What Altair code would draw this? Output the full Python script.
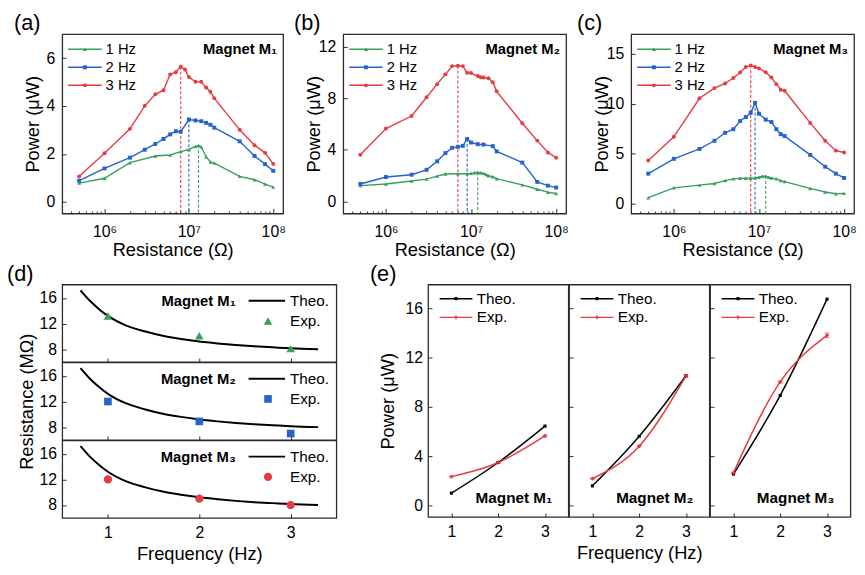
import altair as alt
import pandas as pd

FONT = "Liberation Sans"
GREEN = "#3a9e5e"
BLUE = "#2464cc"
RED = "#e53b42"
FRAME = "#2b2b2b"

SERIES = ["1 Hz", "2 Hz", "3 Hz"]
SERIES_COLORS = [GREEN, BLUE, RED]
SERIES_SHAPES = ["triangle-up", "square", "circle"]

# ---------------- (a) Magnet M1 : load resistance (MOhm) vs power (uW)
a_1hz_r = [0.5, 1, 2, 4, 6, 8, 10, 12, 13, 14, 16, 18, 20, 40, 60, 80, 100]
a_1hz_p = [0.79, 0.99, 1.64, 1.92, 1.96, 2.10, 2.19, 2.32, 2.36, 2.30, 1.89, 1.67, 1.62, 1.07, 0.93, 0.75, 0.62]
a_2hz_r = [0.5, 1, 2, 3, 4, 5, 6, 7, 8, 10, 12, 14, 16, 18, 20, 40, 60, 80, 100]
a_2hz_p = [0.89, 1.40, 1.85, 2.18, 2.42, 2.63, 2.82, 2.95, 2.93, 3.44, 3.40, 3.37, 3.30, 3.22, 3.10, 2.53, 1.92, 1.58, 1.30]
a_3hz_r = [0.5, 1, 2, 3, 4, 5, 6, 7, 8, 9, 10, 12, 14, 16, 18, 20, 40, 60, 80, 100]
a_3hz_p = [1.07, 2.03, 3.05, 4.01, 4.49, 4.66, 5.32, 5.41, 5.64, 5.52, 5.21, 5.01, 5.01, 4.77, 4.60, 4.33, 3.01, 2.37, 2.05, 1.59]

# ---------------- (b) Magnet M2
b_1hz_r = [0.5, 1, 2, 3, 4, 5, 7, 9, 10, 11, 12, 13, 14, 15, 16, 18, 20, 40, 60, 80, 100]
b_1hz_p = [1.22, 1.35, 1.58, 1.73, 1.96, 2.12, 2.14, 2.14, 2.17, 2.22, 2.24, 2.22, 2.17, 2.09, 1.99, 1.91, 1.76, 1.28, 0.94, 0.71, 0.61]
b_2hz_r = [0.5, 1, 2, 3, 4, 5, 6, 7, 8, 9, 10, 12, 14, 18, 20, 40, 60, 80, 100]
b_2hz_p = [1.35, 1.89, 2.07, 2.45, 3.11, 3.75, 4.16, 4.23, 4.31, 4.85, 4.57, 4.44, 4.41, 4.29, 3.88, 3.01, 1.51, 1.22, 1.07]
b_3hz_r = [0.5, 1, 2, 3, 4, 5, 6, 7, 8, 9, 10, 12, 13, 14, 16, 18, 20, 40, 60, 80, 100]
b_3hz_p = [3.62, 5.66, 6.63, 8.09, 9.11, 9.87, 10.51, 10.54, 10.51, 10.00, 9.97, 9.74, 9.64, 9.62, 9.57, 9.26, 8.55, 6.07, 4.72, 3.80, 3.39]

# ---------------- (c) Magnet M3
c_1hz_r = [0.5, 1, 2, 3, 4, 5, 6, 7, 8, 9, 10, 11, 12, 13, 14, 16, 18, 20, 40, 60, 80, 100]
c_1hz_p = [0.59, 1.58, 1.85, 2.01, 2.31, 2.48, 2.54, 2.54, 2.54, 2.57, 2.64, 2.74, 2.75, 2.64, 2.57, 2.48, 2.31, 2.21, 1.52, 1.16, 0.99, 1.02]
c_2hz_r = [0.5, 1, 2, 3, 4, 5, 6, 7, 8, 9, 10, 12, 14, 16, 18, 20, 40, 60, 80, 100]
c_2hz_p = [3.00, 4.49, 5.48, 6.30, 7.10, 7.46, 8.28, 8.68, 9.11, 10.10, 9.01, 8.42, 8.18, 7.46, 6.96, 6.77, 4.88, 3.70, 3.00, 2.57]
c_3hz_r = [0.5, 1, 2, 3, 4, 5, 6, 7, 8, 9, 10, 12, 14, 16, 18, 20, 40, 60, 80, 100]
c_3hz_p = [4.32, 6.70, 10.56, 11.58, 12.05, 12.60, 13.14, 13.70, 13.86, 13.70, 13.56, 13.17, 12.64, 11.98, 11.42, 11.32, 8.09, 6.30, 5.31, 5.12]

# ---------------- (d) optimal resistance (MOhm) vs frequency (Hz)
d_theo_f = [0.7, 0.8, 0.9, 1.0, 1.2, 1.4, 1.6, 1.8, 2.0, 2.2, 2.4, 2.6, 2.8, 3.0, 3.3]
d_theo_r = [17.2, 15.6, 14.3, 13.2, 11.7, 10.8, 10.1, 9.6, 9.2, 8.9, 8.65, 8.45, 8.3, 8.15, 8.0]
d_exp_f = [1, 2, 3]
d_exp_m1 = [13.2, 10.1, 8.1]
d_exp_m2 = [12.0, 8.9, 7.0]
d_exp_m3 = [12.0, 9.0, 8.0]

# ---------------- (e) maximum power (uW) vs frequency (Hz)
e_f = [1, 2, 3]
e_theo_m1 = [0.99, 3.48, 6.44]
e_exp_m1 = [2.33, 3.48, 5.64]
e_err_m1 = [0.04, 0.05, 0.08]
e_theo_m2 = [1.58, 5.61, 10.53]
e_exp_m2 = [2.17, 4.81, 10.53]
e_err_m2 = [0.04, 0.06, 0.10]
e_theo_m3 = [2.54, 8.93, 16.76]
e_exp_m3 = [2.65, 10.03, 13.82]
e_err_m3 = [0.05, 0.08, 0.18]

MAGNETS = ["Magnet M\u2081", "Magnet M\u2082", "Magnet M\u2083"]


def tick(v):
    return alt.ExprRef(expr=str(v))


def one_row():
    return pd.DataFrame({"k": [0]})


def txt(text, x, y, size=15, bold=False, align="left", color="black"):
    return alt.Chart(one_row()).mark_text(
        text=text, align=align, baseline="middle", fontSize=size,
        fontWeight="bold" if bold else "normal", font=FONT, color=color,
    ).encode(x=alt.value(x), y=alt.value(y))


def seg(x1, x2, y, color, width=1.5):
    return alt.Chart(one_row()).mark_rule(color=color, strokeWidth=width).encode(
        x=alt.value(x1), x2=alt.value(x2), y=alt.value(y))


def dot(x, y, shape, color, size):
    return alt.Chart(one_row()).mark_point(
        shape=shape, filled=True, size=size, color=color, opacity=1, strokeWidth=0.8
    ).encode(x=alt.value(x), y=alt.value(y))


LOG_LABEL = "datum.value < 3000000 ? '10\u2076' : datum.value < 30000000 ? '10\u2077' : '10\u2078'"
MINOR = [k * 10 ** e for e in (5, 6, 7) for k in range(2, 10) if k * 10 ** e > 3.2e5]


def top_panel(tag, tag_dx, magnet, rs, ps, ydom, yvals, W, H):
    rows = []
    for name, r_list, p_list in zip(SERIES, rs, ps):
        for r, p in zip(r_list, p_list):
            rows.append({"R": r * 1e6, "P": p, "S": name})
    df = pd.DataFrame(rows)
    peaks = df.loc[df.groupby("S")["P"].idxmax()]

    xs = alt.Scale(type="log", domain=[3.15e5, 1.31e8])
    ys = alt.Scale(domain=ydom, nice=False, zero=False)
    col = alt.Color("S:N", scale=alt.Scale(domain=SERIES, range=SERIES_COLORS), legend=None)
    shp = alt.Shape("S:N", scale=alt.Scale(domain=SERIES, range=SERIES_SHAPES), legend=None)
    x_major = alt.Axis(orient="bottom", values=[1e6, 1e7, 1e8], labelExpr=LOG_LABEL,
                       title="Resistance (\u03a9)", titleY=36.5, titleBaseline="middle",
                       tickSize=tick(-5), labelPadding=15, grid=False, domain=False)
    x_minor = alt.Axis(orient="bottom", values=MINOR, labels=False, title=None,
                       tickSize=tick(-2.5), grid=False, domain=False)
    y_ax = alt.Axis(values=yvals, title="Power (\u03bcW)", titleX=-30, titleBaseline="middle",
                    tickSize=tick(-4), labelPadding=11.5, grid=False, domain=False)
    Y = alt.Y("P:Q", scale=ys, axis=y_ax)

    peak_rules = alt.Chart(peaks).mark_rule(strokeDash=[3, 2], strokeWidth=1.1).encode(
        x=alt.X("R:Q", scale=xs, axis=x_minor), y=Y, y2=alt.datum(ydom[0]), color=col)
    lines = alt.Chart(df).mark_line(strokeWidth=1.4).encode(
        x=alt.X("R:Q", scale=xs, axis=x_major), y=Y, color=col)
    points = alt.Chart(df).mark_point(filled=True, size=16, opacity=1).encode(
        x=alt.X("R:Q", scale=xs, axis=None), y=Y, color=col, shape=shp)

    layers = [peak_rules, lines, points]
    for i, (name, c, s) in enumerate(zip(SERIES, SERIES_COLORS, SERIES_SHAPES)):
        yy = 15.4 + i * 18.3
        layers.append(seg(6, 40, yy, c, 1.5))
        layers.append(dot(23, yy, s, c, 16))
        layers.append(txt(name, 44, yy, 15))
    layers.append(txt(magnet, W - 6, 15.4, 15, bold=True, align="right"))
    layers.append(txt(tag, tag_dx, -11.5, 22))
    return alt.layer(*layers).resolve_axis(x="independent").properties(width=W, height=H)


def d_panel(idx, shape, color, exp_r, size):
    theo_df = pd.DataFrame({"f": d_theo_f, "R": d_theo_r})
    exp_df = pd.DataFrame({"f": d_exp_f, "R": exp_r})
    xs = alt.Scale(domain=[0.5, 3.5], nice=False, zero=False)
    ys = alt.Scale(domain=[6.0, 18.1], nice=False, zero=False)
    last = idx == 2
    if last:
        x_ax = alt.Axis(values=[1, 2, 3], format="d", title="Frequency (Hz)", titleY=36,
                        titleBaseline="middle", tickSize=tick(-4), labelPadding=11,
                        grid=False, domain=False)
    else:
        x_ax = alt.Axis(values=[1, 2, 3], labels=False, title=None, tickSize=tick(-4),
                        grid=False, domain=False)
    if idx == 1:
        y_ax = alt.Axis(values=[8, 12, 16], title="Resistance (M\u03a9)", titleX=-36,
                        titleBaseline="middle", tickSize=tick(-4), labelPadding=9.7,
                        grid=False, domain=False)
    else:
        y_ax = alt.Axis(values=[8, 12, 16], title=None, tickSize=tick(-4), labelPadding=9.7,
                        grid=False, domain=False)
    X = alt.X("f:Q", scale=xs, axis=x_ax)
    Y = alt.Y("R:Q", scale=ys, axis=y_ax)
    theo = alt.Chart(theo_df).mark_line(color="black", strokeWidth=2, interpolate="monotone").encode(x=X, y=Y)
    exp = alt.Chart(exp_df).mark_point(shape=shape, filled=True, size=size, color=color, opacity=1).encode(x=X, y=Y)
    layers = [theo, exp,
              seg(189, 226, 16.5, "black", 2), txt("Theo.", 231, 16.5, 15.5),
              dot(208.7, 37, shape, color, size), txt("Exp.", 231, 37, 15.5),
              txt(MAGNETS[idx], 176, 16.5, 15, bold=True, align="right")]
    if idx == 0:
        layers.append(txt("(d)", -56, -11, 22))
    return alt.layer(*layers).properties(width=278, height=78.6)


def e_panel(idx, theo_p, exp_p, err):
    theo_df = pd.DataFrame({"f": e_f, "P": theo_p})
    exp_df = pd.DataFrame({"f": e_f, "P": exp_p, "lo": [p - e for p, e in zip(exp_p, err)],
                           "hi": [p + e for p, e in zip(exp_p, err)]})
    xs = alt.Scale(domain=[0.5, 3.5], nice=False, zero=False)
    ys = alt.Scale(domain=[-0.95, 17.95], nice=False, zero=False)
    if idx == 1:
        x_ax = alt.Axis(values=[1, 2, 3], format="d", title="Frequency (Hz)", titleY=36,
                        titleBaseline="middle", tickSize=tick(-4), labelPadding=11,
                        grid=False, domain=False)
    else:
        x_ax = alt.Axis(values=[1, 2, 3], format="d", title=None, tickSize=tick(-4),
                        labelPadding=11, grid=False, domain=False)
    if idx == 0:
        y_ax = alt.Axis(values=[0, 4, 8, 12, 16], title="Power (\u03bcW)", titleX=-40.6,
                        titleBaseline="middle", tickSize=tick(-4), labelPadding=9.6,
                        grid=False, domain=False)
    else:
        y_ax = alt.Axis(values=[0, 4, 8, 12, 16], labels=False, title=None, tickSize=tick(-4),
                        grid=False, domain=False)
    X = alt.X("f:Q", scale=xs, axis=x_ax)
    Y = alt.Y("P:Q", scale=ys, axis=y_ax)
    theo_line = alt.Chart(theo_df).mark_line(color="black", strokeWidth=1.5, interpolate="monotone").encode(x=X, y=Y)
    theo_pts = alt.Chart(theo_df).mark_point(shape="square", filled=True, size=10, color="black", opacity=1).encode(x=X, y=Y)
    exp_line = alt.Chart(exp_df).mark_line(color=RED, strokeWidth=1.5, interpolate="monotone").encode(x=X, y=Y)
    exp_err = alt.Chart(exp_df).mark_errorbar(ticks=True, color=RED).encode(
        x=X, y=alt.Y("lo:Q", scale=ys, axis=y_ax), y2="hi:Q")
    exp_pts = alt.Chart(exp_df).mark_point(shape="cross", filled=True, size=14, color=RED, opacity=1).encode(x=X, y=Y)
    layers = [theo_line, exp_line, exp_err, theo_pts, exp_pts,
              seg(11.7, 45, 14.3, "black", 1.5), dot(28.3, 14.3, "square", "black", 10),
              txt("Theo.", 49.4, 14.3, 15.5),
              seg(11.7, 45, 33.3, RED, 1.5), dot(28.3, 33.3, "cross", RED, 14),
              txt("Exp.", 49.4, 33.3, 15.5),
              txt(MAGNETS[idx], 126, 216.7, 15.5, bold=True, align="right")]
    if idx == 0:
        layers.append(txt("(e)", -59, -11, 22))
    return alt.layer(*layers).properties(width=142.3, height=235.7)


pa = top_panel("(a)", -49, MAGNETS[0], [a_1hz_r, a_2hz_r, a_3hz_r], [a_1hz_p, a_2hz_p, a_3hz_p],
               [-0.48, 7.0], [0, 2, 4, 6], 224, 182)
pb = top_panel("(b)", -50, MAGNETS[1], [b_1hz_r, b_2hz_r, b_3hz_r], [b_1hz_p, b_2hz_p, b_3hz_p],
               [-0.95, 13.0], [0, 4, 8, 12], 226, 182)
pc = top_panel("(c)", -55, MAGNETS[2], [c_1hz_r, c_2hz_r, c_3hz_r], [c_1hz_p, c_2hz_p, c_3hz_p],
               [-1.0, 17.0], [0, 5, 10, 15], 226, 182)

row1 = alt.hconcat(pa, pb, pc, spacing=7)

dcol = alt.vconcat(
    d_panel(0, "triangle-up", GREEN, d_exp_m1, 75),
    d_panel(1, "square", BLUE, d_exp_m2, 60),
    d_panel(2, "circle", RED, d_exp_m3, 70),
    spacing=0, bounds="flush",
)
erow = alt.hconcat(
    e_panel(0, e_theo_m1, e_exp_m1, e_err_m1),
    e_panel(1, e_theo_m2, e_exp_m2, e_err_m2),
    e_panel(2, e_theo_m3, e_exp_m3, e_err_m3),
    spacing=0, bounds="flush",
)
row2 = alt.hconcat(dcol, erow, spacing=32)

chart = alt.vconcat(row1, row2, spacing=2).properties(
    padding={"left": -2, "top": -1.5, "right": 0, "bottom": 0},
    background="white",
).configure_view(
    stroke=FRAME, strokeWidth=1.3
).configure_axis(
    labelFont=FONT, titleFont=FONT, labelFontSize=16, titleFontSize=18.5,
    titleFontWeight="normal", tickColor=FRAME, tickWidth=1, labelColor="black",
    titleColor="black",
).configure_text(font=FONT)

chart.save("out.html", embed_options={"renderer": "svg", "actions": False})
